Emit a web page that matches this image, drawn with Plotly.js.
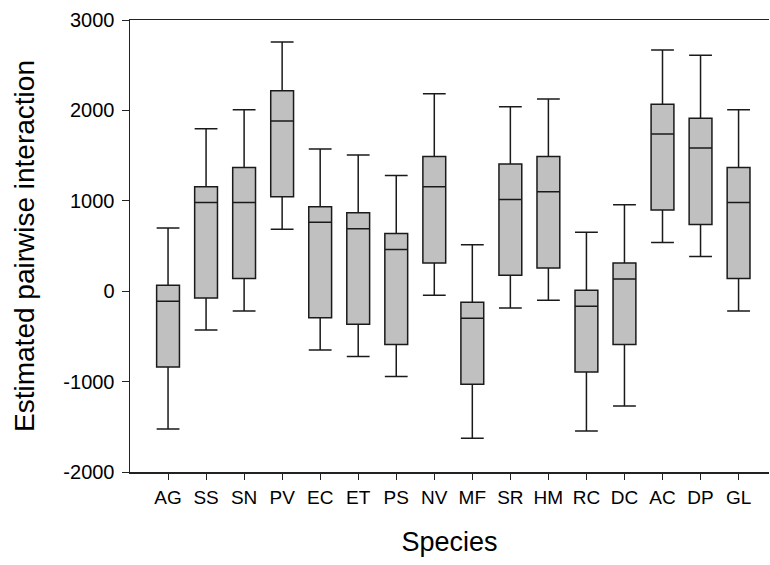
<!DOCTYPE html>
<html>
<head>
<meta charset="utf-8">
<script src="https://cdn.plot.ly/plotly-3.0.1.min.js"></script>
<style>html,body{margin:0;padding:0;background:#fff;}#chart{width:770px;height:565px;}</style>
</head>
<body>
<div id="chart"></div>
<script>
const species = ["AG","SS","SN","PV","EC","ET","PS","NV","MF","SR","HM","RC","DC","AC","DP","GL"];
const lowerWhisker = [-1524,-428,-218,686,-650,-723,-944,-44,-1627,-185,-100,-1547,-1270,539,384,-218];
const q1Values     = [-838,-74,140,1044,-295,-365,-590,313,-1030,177,258,-893,-590,897,738,140];
const medianValues = [-111,982,982,1882,764,690,461,1155,-299,1015,1099,-166,136,1738,1583,982];
const q3Values     = [66,1155,1369,2217,933,867,639,1491,-122,1406,1491,11,313,2067,1912,1369];
const upperWhisker = [700,1797,2007,2757,1572,1506,1281,2184,513,2040,2126,653,955,2668,2609,2007];
const yTicks = [-2000,-1000,0,1000,2000,3000];

const trace = {
  type: "box",
  x: species,
  q1: q1Values,
  median: medianValues,
  q3: q3Values,
  lowerfence: lowerWhisker,
  upperfence: upperWhisker,
  boxpoints: false,
  width: 0.6,
  whiskerwidth: 1,
  fillcolor: "#c0c0c0",
  line: {color: "#1a1a1a", width: 1.5},
  hoverinfo: "skip",
  showlegend: false
};

const font = "Liberation Sans, Arial, sans-serif";
const layout = {
  width: 770, height: 565,
  margin: {l: 130, r: 1, t: 20, b: 93},
  paper_bgcolor: "#fff", plot_bgcolor: "#fff",
  font: {family: font, color: "#000"},
  xaxis: {
    type: "category",
    range: [-1, 15.8],
    showline: true, linecolor: "#222", linewidth: 1.5, mirror: true,
    ticks: "outside", ticklen: 6, tickwidth: 1, tickcolor: "#222",
    showgrid: false, zeroline: false,
    tickfont: {size: 19, family: font},
    ticklabelstandoff: 2,
    title: {text: "Species", font: {size: 27, family: font}, standoff: 25},
    automargin: false
  },
  yaxis: {
    range: [-2000, 3000],
    tickvals: yTicks,
    ticktext: yTicks.map(String),
    showline: true, linecolor: "#222", linewidth: 1.5, mirror: false,
    ticks: "outside", ticklen: 7, tickwidth: 1, tickcolor: "#222",
    showgrid: false, zeroline: false,
    tickfont: {size: 20, family: font},
    ticklabelstandoff: 3,
    title: {text: "Estimated pairwise interaction", font: {size: 28, family: font}, standoff: 20},
    automargin: false
  }
};

Plotly.newPlot("chart", [trace], layout, {displayModeBar: false, staticPlot: true});
</script>
</body>
</html>
